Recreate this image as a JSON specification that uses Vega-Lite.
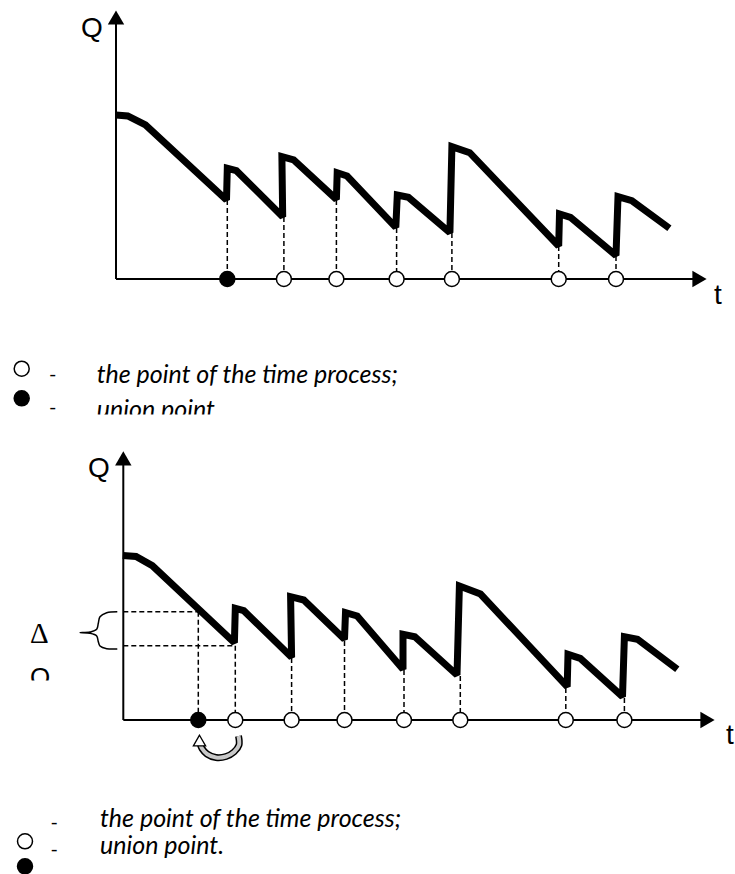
{
  "$schema": "https://vega.github.io/schema/vega-lite/v6.json",
  "width": 735,
  "height": 874,
  "autosize": {"type": "fit", "contains": "padding"},
  "padding": 0,
  "background": "white",
  "config": {"view": {"stroke": null}},
  "datasets": {
    "axes": [
      {"panel": "top", "x": 116, "y": 279, "x2": 116, "y2": 22},
      {"panel": "top", "x": 116, "y": 279, "x2": 694, "y2": 279},
      {"panel": "bottom", "x": 123.3, "y": 720, "x2": 123.3, "y2": 463},
      {"panel": "bottom", "x": 123.3, "y": 720, "x2": 702, "y2": 720}
    ],
    "arrowsUp": [
      {"panel": "top", "x": 116, "y": 17.5},
      {"panel": "bottom", "x": 123.3, "y": 458.3}
    ],
    "arrowsRight": [
      {"panel": "top", "x": 699.5, "y": 279},
      {"panel": "bottom", "x": 707.5, "y": 720}
    ],
    "curve": [
      {"panel": "top", "i": 1, "x": 115.8, "y": 115},
      {"panel": "top", "i": 2, "x": 127.7, "y": 116},
      {"panel": "top", "i": 3, "x": 145.5, "y": 125},
      {"panel": "top", "i": 4, "x": 226.5, "y": 200},
      {"panel": "top", "i": 5, "x": 227.3, "y": 168.3},
      {"panel": "top", "i": 6, "x": 236.4, "y": 170.7},
      {"panel": "top", "i": 7, "x": 282.7, "y": 216.7},
      {"panel": "top", "i": 8, "x": 281.9, "y": 156.7},
      {"panel": "top", "i": 9, "x": 293.7, "y": 160},
      {"panel": "top", "i": 10, "x": 336.4, "y": 199.3},
      {"panel": "top", "i": 11, "x": 337.2, "y": 172.7},
      {"panel": "top", "i": 12, "x": 347.1, "y": 176},
      {"panel": "top", "i": 13, "x": 395.8, "y": 227.3},
      {"panel": "top", "i": 14, "x": 397.3, "y": 195},
      {"panel": "top", "i": 15, "x": 408.4, "y": 197.3},
      {"panel": "top", "i": 16, "x": 449.9, "y": 232.7},
      {"panel": "top", "i": 17, "x": 451.9, "y": 146.7},
      {"panel": "top", "i": 18, "x": 469.7, "y": 152.7},
      {"panel": "top", "i": 19, "x": 558.7, "y": 246},
      {"panel": "top", "i": 20, "x": 559.5, "y": 214},
      {"panel": "top", "i": 21, "x": 570.5, "y": 217.3},
      {"panel": "top", "i": 22, "x": 616, "y": 255.5},
      {"panel": "top", "i": 23, "x": 618, "y": 196.7},
      {"panel": "top", "i": 24, "x": 631.8, "y": 200.7},
      {"panel": "top", "i": 25, "x": 669.4, "y": 228.3},
      {"panel": "bottom", "i": 1, "x": 122.8, "y": 555.5},
      {"panel": "bottom", "i": 2, "x": 136, "y": 556.5},
      {"panel": "bottom", "i": 3, "x": 152.3, "y": 565.7},
      {"panel": "bottom", "i": 4, "x": 234.4, "y": 642.7},
      {"panel": "bottom", "i": 5, "x": 235.3, "y": 608.3},
      {"panel": "bottom", "i": 6, "x": 243.8, "y": 610.7},
      {"panel": "bottom", "i": 7, "x": 291.6, "y": 657.3},
      {"panel": "bottom", "i": 8, "x": 290.6, "y": 596.7},
      {"panel": "bottom", "i": 9, "x": 303.75, "y": 600},
      {"panel": "bottom", "i": 10, "x": 344.5, "y": 639.3},
      {"panel": "bottom", "i": 11, "x": 345.5, "y": 612.7},
      {"panel": "bottom", "i": 12, "x": 357.2, "y": 616},
      {"panel": "bottom", "i": 13, "x": 403, "y": 669.3},
      {"panel": "bottom", "i": 14, "x": 403, "y": 634.3},
      {"panel": "bottom", "i": 15, "x": 414.8, "y": 636.7},
      {"panel": "bottom", "i": 16, "x": 457, "y": 675},
      {"panel": "bottom", "i": 17, "x": 459.4, "y": 586},
      {"panel": "bottom", "i": 18, "x": 480.5, "y": 594},
      {"panel": "bottom", "i": 19, "x": 567.2, "y": 686.7},
      {"panel": "bottom", "i": 20, "x": 568, "y": 654.3},
      {"panel": "bottom", "i": 21, "x": 580.3, "y": 658.3},
      {"panel": "bottom", "i": 22, "x": 622.5, "y": 696.7},
      {"panel": "bottom", "i": 23, "x": 624.4, "y": 636.7},
      {"panel": "bottom", "i": 24, "x": 637.5, "y": 639.3},
      {"panel": "bottom", "i": 25, "x": 677.3, "y": 669.3}
    ],
    "dashes": [
      {"x": 227.3, "y": 200, "x2": 227.3, "y2": 279},
      {"x": 283.9, "y": 217, "x2": 283.9, "y2": 279},
      {"x": 336.4, "y": 200, "x2": 336.4, "y2": 279},
      {"x": 396.6, "y": 228, "x2": 396.6, "y2": 279},
      {"x": 451.9, "y": 233, "x2": 451.9, "y2": 279},
      {"x": 558.7, "y": 246, "x2": 558.7, "y2": 279},
      {"x": 616, "y": 256, "x2": 616, "y2": 279},
      {"x": 198.3, "y": 611.7, "x2": 198.3, "y2": 720},
      {"x": 235.3, "y": 645.7, "x2": 235.3, "y2": 720},
      {"x": 291.6, "y": 658, "x2": 291.6, "y2": 720},
      {"x": 344.5, "y": 641, "x2": 344.5, "y2": 720},
      {"x": 404, "y": 670, "x2": 404, "y2": 720},
      {"x": 460.3, "y": 676, "x2": 460.3, "y2": 720},
      {"x": 565.8, "y": 688, "x2": 565.8, "y2": 720},
      {"x": 624.4, "y": 698, "x2": 624.4, "y2": 720},
      {"x": 123.3, "y": 611.7, "x2": 198.3, "y2": 611.7},
      {"x": 123.3, "y": 645.7, "x2": 235.3, "y2": 645.7}
    ],
    "points": [
      {"kind": "union", "x": 227.3, "y": 279},
      {"kind": "process", "x": 283.9, "y": 279},
      {"kind": "process", "x": 336.4, "y": 279},
      {"kind": "process", "x": 396.6, "y": 279},
      {"kind": "process", "x": 451.9, "y": 279},
      {"kind": "process", "x": 558.7, "y": 279},
      {"kind": "process", "x": 616, "y": 279},
      {"kind": "union", "x": 198.3, "y": 720},
      {"kind": "process", "x": 235.3, "y": 720},
      {"kind": "process", "x": 291.6, "y": 720},
      {"kind": "process", "x": 344.5, "y": 720},
      {"kind": "process", "x": 404, "y": 720},
      {"kind": "process", "x": 460.3, "y": 720},
      {"kind": "process", "x": 565.8, "y": 720},
      {"kind": "process", "x": 624.4, "y": 720},
      {"kind": "process", "x": 21.7, "y": 368.7},
      {"kind": "union", "x": 21.7, "y": 398.3},
      {"kind": "process", "x": 25, "y": 841.3},
      {"kind": "union", "x": 25, "y": 866.3}
    ],
    "brace": [
      {"i": 1, "x": 117.3, "y": 611.7},
      {"i": 2, "x": 106.7, "y": 612.7},
      {"i": 3, "x": 100, "y": 616.7},
      {"i": 4, "x": 98.3, "y": 623.3},
      {"i": 5, "x": 96.7, "y": 629.3},
      {"i": 6, "x": 90, "y": 632},
      {"i": 7, "x": 80, "y": 632.7},
      {"i": 8, "x": 90, "y": 633.3},
      {"i": 9, "x": 96.7, "y": 636},
      {"i": 10, "x": 98.3, "y": 641.7},
      {"i": 11, "x": 100, "y": 646},
      {"i": 12, "x": 106.7, "y": 648.7},
      {"i": 13, "x": 117.3, "y": 649}
    ],
    "swoop": [
      {"i": 1, "x": 238.5, "y": 736},
      {"i": 2, "x": 239, "y": 745},
      {"i": 3, "x": 234, "y": 752},
      {"i": 4, "x": 226, "y": 756.5},
      {"i": 5, "x": 216, "y": 757.5},
      {"i": 6, "x": 207, "y": 754},
      {"i": 7, "x": 202, "y": 748.5},
      {"i": 8, "x": 200.3, "y": 744.5}
    ],
    "swoopHead": [
      {"x": 199.5, "y": 740.5}
    ],
    "axisLabels": [
      {"text": "Q", "x": 81, "y": 37},
      {"text": "t", "x": 714, "y": 304},
      {"text": "Q", "x": 88, "y": 477},
      {"text": "t", "x": 726, "y": 744}
    ],
    "deltaLabel": [
      {"text": "Δ", "x": 30, "y": 643}
    ],
    "deltaQ": [
      {"text": "Q", "x": 30, "y": 686}
    ],
    "legendDash": [
      {"text": "-", "x": 49, "y": 381},
      {"text": "-", "x": 49, "y": 414},
      {"text": "-", "x": 50.5, "y": 829},
      {"text": "-", "x": 50.5, "y": 856}
    ],
    "legendText": [
      {"text": "the point of the time process;", "x": 96.7, "y": 382.7},
      {"text": "union point", "x": 96.7, "y": 417.5},
      {"text": "the point of the time process;", "x": 100, "y": 826.5},
      {"text": "union point.", "x": 100, "y": 853.5}
    ],
    "masks": [
      {"x": 60, "x2": 330, "y": 414.5, "y2": 440},
      {"x": 20, "x2": 66, "y": 680.5, "y2": 700}
    ]
  },
  "layer": [
    {
      "data": {"name": "axes"},
      "mark": {"type": "rule", "stroke": "black", "strokeWidth": 2},
      "encoding": {
        "x": {"field": "x", "type": "quantitative", "scale": {"domain": [0, 735], "nice": false, "zero": false}, "axis": null},
        "y": {"field": "y", "type": "quantitative", "scale": {"domain": [0, 874], "nice": false, "zero": false, "reverse": true}, "axis": null},
        "x2": {"field": "x2"},
        "y2": {"field": "y2"}
      }
    },
    {
      "data": {"name": "arrowsUp"},
      "mark": {"type": "point", "shape": "triangle-up", "filled": true, "color": "black", "size": 270, "opacity": 1},
      "encoding": {
        "x": {"field": "x", "type": "quantitative", "axis": null},
        "y": {"field": "y", "type": "quantitative", "axis": null}
      }
    },
    {
      "data": {"name": "arrowsRight"},
      "mark": {"type": "point", "shape": "triangle-right", "filled": true, "color": "black", "size": 270, "opacity": 1},
      "encoding": {
        "x": {"field": "x", "type": "quantitative", "axis": null},
        "y": {"field": "y", "type": "quantitative", "axis": null}
      }
    },
    {
      "data": {"name": "dashes"},
      "mark": {"type": "rule", "stroke": "black", "strokeWidth": 1.5, "strokeDash": [5, 3]},
      "encoding": {
        "x": {"field": "x", "type": "quantitative", "axis": null},
        "y": {"field": "y", "type": "quantitative", "axis": null},
        "x2": {"field": "x2"},
        "y2": {"field": "y2"}
      }
    },
    {
      "data": {"name": "curve"},
      "mark": {"type": "line", "stroke": "black", "strokeWidth": 7, "strokeJoin": "miter", "strokeMiterLimit": 2, "strokeCap": "butt"},
      "encoding": {
        "x": {"field": "x", "type": "quantitative", "axis": null},
        "y": {"field": "y", "type": "quantitative", "axis": null},
        "detail": {"field": "panel"},
        "order": {"field": "i", "type": "quantitative"}
      }
    },
    {
      "data": {"name": "points"},
      "mark": {"type": "point", "shape": "circle", "filled": true, "size": 225, "stroke": "black", "strokeWidth": 1.5, "opacity": 1, "clip": true},
      "encoding": {
        "x": {"field": "x", "type": "quantitative", "axis": null},
        "y": {"field": "y", "type": "quantitative", "axis": null},
        "fill": {"field": "kind", "type": "nominal", "scale": {"domain": ["process", "union"], "range": ["white", "black"]}, "legend": null}
      }
    },
    {
      "data": {"name": "brace"},
      "mark": {"type": "line", "stroke": "black", "strokeWidth": 1.5, "interpolate": "catmull-rom"},
      "encoding": {
        "x": {"field": "x", "type": "quantitative", "axis": null},
        "y": {"field": "y", "type": "quantitative", "axis": null},
        "order": {"field": "i", "type": "quantitative"}
      }
    },
    {
      "data": {"name": "swoop"},
      "mark": {"type": "line", "stroke": "black", "strokeWidth": 7, "interpolate": "catmull-rom", "strokeCap": "butt"},
      "encoding": {
        "x": {"field": "x", "type": "quantitative", "axis": null},
        "y": {"field": "y", "type": "quantitative", "axis": null},
        "order": {"field": "i", "type": "quantitative"}
      }
    },
    {
      "data": {"name": "swoop"},
      "mark": {"type": "line", "stroke": "#c8c8c8", "strokeWidth": 4, "interpolate": "catmull-rom", "strokeCap": "butt"},
      "encoding": {
        "x": {"field": "x", "type": "quantitative", "axis": null},
        "y": {"field": "y", "type": "quantitative", "axis": null},
        "order": {"field": "i", "type": "quantitative"}
      }
    },
    {
      "data": {"name": "swoopHead"},
      "mark": {"type": "point", "shape": "triangle-up", "filled": true, "fill": "white", "stroke": "black", "strokeWidth": 1.3, "size": 150, "opacity": 1},
      "encoding": {
        "x": {"field": "x", "type": "quantitative", "axis": null},
        "y": {"field": "y", "type": "quantitative", "axis": null}
      }
    },
    {
      "data": {"name": "axisLabels"},
      "mark": {"type": "text", "font": "Liberation Sans", "fontSize": 28, "align": "left", "baseline": "alphabetic", "color": "black", "clip": true},
      "encoding": {
        "x": {"field": "x", "type": "quantitative", "axis": null},
        "y": {"field": "y", "type": "quantitative", "axis": null},
        "text": {"field": "text"}
      }
    },
    {
      "data": {"name": "deltaLabel"},
      "mark": {"type": "text", "font": "Liberation Serif", "fontSize": 29, "align": "left", "baseline": "alphabetic", "color": "black"},
      "encoding": {
        "x": {"field": "x", "type": "quantitative", "axis": null},
        "y": {"field": "y", "type": "quantitative", "axis": null},
        "text": {"field": "text"}
      }
    },
    {
      "data": {"name": "deltaQ"},
      "mark": {"type": "text", "font": "Liberation Sans", "fontSize": 26, "align": "left", "baseline": "alphabetic", "color": "black"},
      "encoding": {
        "x": {"field": "x", "type": "quantitative", "axis": null},
        "y": {"field": "y", "type": "quantitative", "axis": null},
        "text": {"field": "text"}
      }
    },
    {
      "data": {"name": "legendDash"},
      "mark": {"type": "text", "font": "Lato", "fontSize": 20, "align": "left", "baseline": "alphabetic", "color": "black"},
      "encoding": {
        "x": {"field": "x", "type": "quantitative", "axis": null},
        "y": {"field": "y", "type": "quantitative", "axis": null},
        "text": {"field": "text"}
      }
    },
    {
      "data": {"name": "legendText"},
      "mark": {"type": "text", "font": "Lato", "fontSize": 25, "fontStyle": "italic", "align": "left", "baseline": "alphabetic", "color": "black"},
      "encoding": {
        "x": {"field": "x", "type": "quantitative", "axis": null},
        "y": {"field": "y", "type": "quantitative", "axis": null},
        "text": {"field": "text"}
      }
    },
    {
      "data": {"name": "masks"},
      "mark": {"type": "rect", "fill": "white", "stroke": null},
      "encoding": {
        "x": {"field": "x", "type": "quantitative", "axis": null},
        "y": {"field": "y", "type": "quantitative", "axis": null},
        "x2": {"field": "x2"},
        "y2": {"field": "y2"}
      }
    }
  ]
}
